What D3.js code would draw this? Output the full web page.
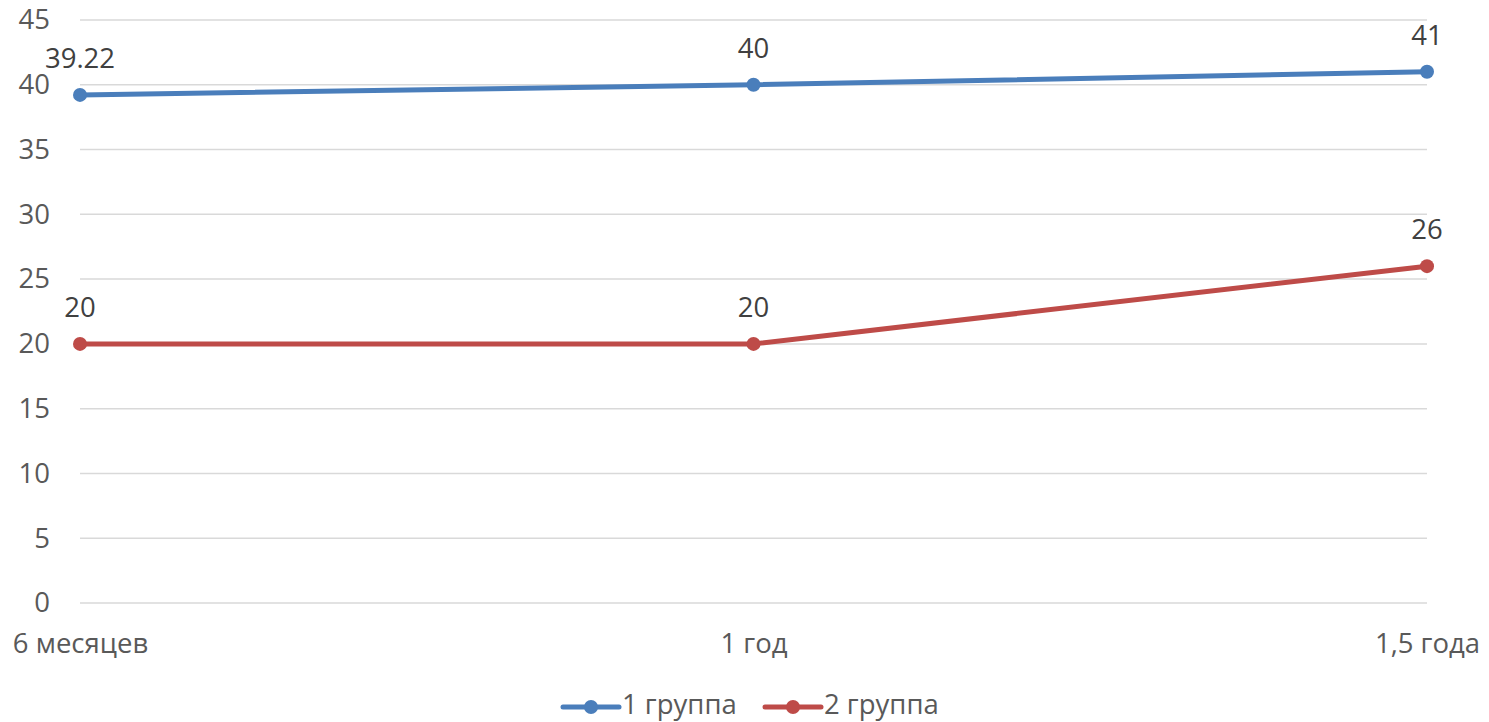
<!DOCTYPE html>
<html>
<head>
<meta charset="utf-8">
<script src="https://cdn.jsdelivr.net/npm/d3@7"></script>
<style>
  html, body { margin: 0; padding: 0; background: #fff; }
  svg { display: block; font-family: "Open Sans", "Noto Sans", sans-serif; }
</style>
</head>
<body>
<svg id="chart" width="1489" height="722"></svg>
<script>
// Periods on the x axis
const categories = ["6 месяцев", "1 год", "1,5 года"];
// Series values
const group1 = [39.22, 40, 41];
const group2 = [20, 20, 26];
const seriesNames = ["1 группа", "2 группа"];
const seriesColors = ["#4a7ebb", "#be4b48"];
// Y axis ticks
const yTicks = [0, 5, 10, 15, 20, 25, 30, 35, 40, 45];

(function () {
  const svg = d3.select("#chart");
  const plotLeft = 80, plotRight = 1427, plotTop = 20, plotBottom = 603;
  const fontSize = 27.5;

  const x = d3.scalePoint().domain(categories).range([plotLeft, plotRight]).padding(0);
  const y = d3.scaleLinear().domain([0, 45]).range([plotBottom, plotTop]);

  // Horizontal gridlines
  svg.append("g")
    .selectAll("line")
    .data(yTicks)
    .join("line")
    .attr("x1", plotLeft).attr("x2", plotRight)
    .attr("y1", d => y(d)).attr("y2", d => y(d))
    .attr("stroke", "#d9d9d9").attr("stroke-width", 1.5);

  // Y axis labels
  const yAxis = d3.axisLeft(y).tickValues(yTicks).tickSize(0).tickPadding(0);
  const gy = svg.append("g").attr("transform", "translate(50,0)").call(yAxis);
  gy.select(".domain").remove();
  gy.selectAll("text")
    .attr("font-size", fontSize).attr("fill", "#595959")
    .attr("font-family", "'Open Sans', sans-serif")
    .attr("text-anchor", "end");

  // X axis labels
  const xAxis = d3.axisBottom(x).tickSize(0).tickPadding(0);
  const gx = svg.append("g").attr("transform", "translate(0,633)").call(xAxis);
  gx.select(".domain").remove();
  gx.selectAll("text")
    .attr("font-size", fontSize).attr("fill", "#595959")
    .attr("font-family", "'Open Sans', sans-serif")
    .attr("dy", "0.71em");

  const series = [group1, group2];
  const line = d3.line().x((d, i) => x(categories[i])).y(d => y(d));

  series.forEach((vals, s) => {
    const g = svg.append("g");
    g.append("path")
      .datum(vals)
      .attr("d", line)
      .attr("fill", "none")
      .attr("stroke", seriesColors[s])
      .attr("stroke-width", 5)
      .attr("stroke-linejoin", "round")
      .attr("stroke-linecap", "round");
    g.selectAll("circle")
      .data(vals)
      .join("circle")
      .attr("cx", (d, i) => x(categories[i]))
      .attr("cy", d => y(d))
      .attr("r", 7)
      .attr("fill", seriesColors[s]);
    g.selectAll("text")
      .data(vals)
      .join("text")
      .attr("x", (d, i) => x(categories[i]))
      .attr("y", d => y(d) - 27)
      .attr("text-anchor", "middle")
      .attr("font-size", fontSize)
      .attr("fill", "#404040")
      .text(d => String(d));
  });

  // Legend
  const legendItems = [
    { name: seriesNames[0], color: seriesColors[0], x0: 563 },
    { name: seriesNames[1], color: seriesColors[1], x0: 765 }
  ];
  const legendY = 707;
  legendItems.forEach(it => {
    const g = svg.append("g");
    g.append("line")
      .attr("x1", it.x0).attr("x2", it.x0 + 56)
      .attr("y1", legendY).attr("y2", legendY)
      .attr("stroke", it.color).attr("stroke-width", 5)
      .attr("stroke-linecap", "round");
    g.append("circle")
      .attr("cx", it.x0 + 28).attr("cy", legendY).attr("r", 7)
      .attr("fill", it.color);
    g.append("text")
      .attr("x", it.x0 + 59).attr("y", legendY + 7)
      .attr("font-size", fontSize)
      .attr("fill", "#595959")
      .text(it.name);
  });
})();
</script>
</body>
</html>
